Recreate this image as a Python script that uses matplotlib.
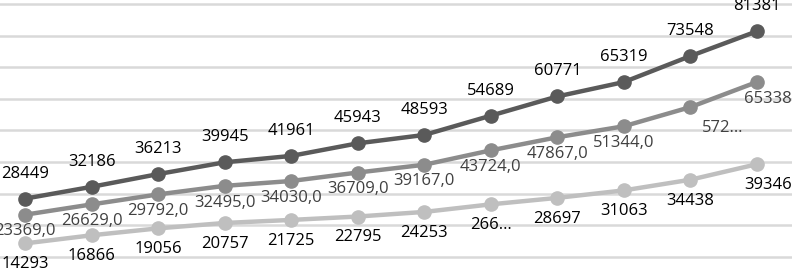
import numpy as np
import matplotlib
matplotlib.use('Agg')
import matplotlib.pyplot as plt

# adatsorok (12 pont / sor)
top_vals = [28449, 32186, 36213, 39945, 41961, 45943, 48593, 54689, 60771, 65319, 73548, 81381]
mid_vals = [23369, 26629, 29792, 32495, 34030, 36709, 39167, 43724, 47867, 51344, 57400, 65338]
bot_vals = [14293, 16866, 19056, 20757, 21725, 22795, 24253, 26650, 28697, 31063, 34438, 39346]

top_labels = [str(v) for v in top_vals]
mid_labels = ['%d,0' % v for v in mid_vals]
mid_labels[10] = '572…'
mid_labels[11] = '65338'
bot_labels = [str(v) for v in bot_vals]
bot_labels[7] = '266…'

grid_vals = np.arange(10000, 90001, 10000)

plt.rcParams['font.family'] = ['Open Sans', 'DejaVu Sans']

fig = plt.figure(figsize=(7.92, 2.73), dpi=100)
ax = fig.add_axes([0, 0, 1, 1])
x = np.arange(len(top_vals))

for yv in grid_vals:
    ax.axhline(yv, color='#d9d9d9', lw=1.8, zorder=0)

series = [
    (bot_vals, bot_labels, '#bfbfbf', -15, 'black'),
    (mid_vals, mid_labels, '#8c8c8c', -12, '#404040'),
    (top_vals, top_labels, '#5a5a5a', 18, 'black'),
]
for vals, labels, col, dy, tcol in series:
    ax.plot(x, vals, color=col, lw=3.2, marker='o', ms=9.5, zorder=3)
    for i, (v, s) in enumerate(zip(vals, labels)):
        ha = 'center'
        dx = 0
        if i == len(vals) - 1 and dy < 0:
            ha = 'left'
            dx = -9.5
        if s.endswith('…') and dy > -13:
            dx = 23
            dy2 = -15
        else:
            dy2 = dy
        ax.annotate(s, (x[i], v), xytext=(dx, dy2), textcoords='offset points',
                    ha=ha, va='center', fontsize=12, color=tcol,
                    annotation_clip=False, zorder=4)

ax.set_xlim(-0.376, 11.526)
ax.set_ylim(4940, 91265)
ax.axis('off')

fig.savefig('out.png', dpi=100)
